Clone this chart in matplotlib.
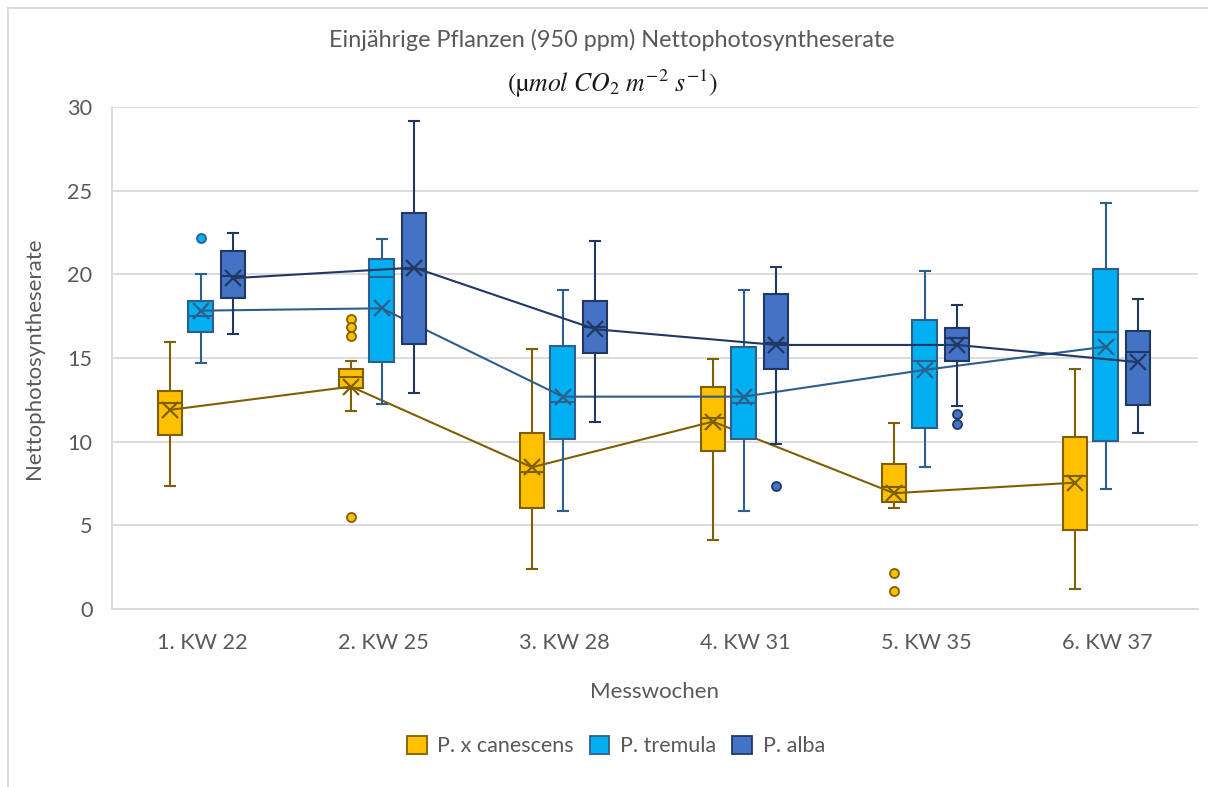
import matplotlib
matplotlib.use("Agg")
import matplotlib.pyplot as plt
from matplotlib.lines import Line2D

plt.rcParams['font.family'] = ['Lato', 'DejaVu Sans']
plt.rcParams['mathtext.fontset'] = 'stix'

# ---- data -------------------------------------------------------------
weeks = ["1. KW 22", "2. KW 25", "3. KW 28", "4. KW 31", "5. KW 35", "6. KW 37"]
series_names = ["P. x canescens", "P. tremula", "P. alba"]

# P. x canescens
can_lo = [7.37, 11.83, 2.37, 4.10, 6.02, 1.18]
can_q1 = [10.40, 13.19, 6.06, 9.42, 6.38, 4.72]
can_med = [12.30, 13.89, 8.21, 11.40, 7.31, 7.95]
can_q3 = [13.03, 14.35, 10.50, 13.27, 8.65, 10.30]
can_hi = [15.98, 14.82, 15.54, 14.96, 11.10, 14.33]
can_mean = [11.90, 13.29, 8.47, 11.20, 6.92, 7.55]
can_out = [[], [17.33, 16.84, 16.30, 5.48], [], [], [2.13, 1.08], []]

# P. tremula
tre_lo = [14.72, 12.25, 5.86, 5.86, 8.47, 7.17]
tre_q1 = [16.56, 14.78, 10.16, 10.16, 10.84, 10.06]
tre_med = [17.50, 19.87, 12.35, 12.31, 14.82, 16.58]
tre_q3 = [18.43, 20.90, 15.70, 15.68, 17.27, 20.32]
tre_hi = [20.00, 22.13, 19.05, 19.07, 20.22, 24.25]
tre_mean = [17.83, 17.97, 12.69, 12.69, 14.29, 15.68]
tre_out = [[22.15], [], [], [], [], []]

# P. alba
alb_lo = [16.44, 12.93, 11.18, 9.86, 12.15, 10.50]
alb_q1 = [18.60, 15.84, 15.30, 14.33, 14.84, 12.19]
alb_med = [19.90, 20.30, 16.84, 15.90, 16.18, 15.38]
alb_q3 = [21.42, 23.69, 18.43, 18.85, 16.82, 16.62]
alb_hi = [22.45, 29.17, 22.00, 20.46, 18.15, 18.53]
alb_mean = [19.77, 20.40, 16.72, 15.78, 15.78, 14.75]
alb_out = [[], [], [], [7.37], [11.66, 11.06], []]

fills = ["#FFC000", "#00B0F0", "#4472C4"]
edges = ["#7F6000", "#2E5E8C", "#203864"]
offsets = [-0.18, -0.01, 0.17]
box_w = 0.135

series = [
    (can_lo, can_q1, can_med, can_q3, can_hi, can_mean, can_out),
    (tre_lo, tre_q1, tre_med, tre_q3, tre_hi, tre_mean, tre_out),
    (alb_lo, alb_q1, alb_med, alb_q3, alb_hi, alb_mean, alb_out),
]

# ---- figure -----------------------------------------------------------
W, H = 1208, 787
fig = plt.figure(figsize=(W / 100, H / 100), dpi=100)
ax = fig.add_axes([112 / W, 1 - 609 / H, (1198 - 112) / W, (609 - 107) / H])

grid_c = "#D9D9D9"
text_c = "#595959"

for i, (lo, q1, med, q3, hi, mean, out) in enumerate(series):
    stats = []
    for k in range(len(weeks)):
        stats.append(dict(whislo=lo[k], q1=q1[k], med=med[k], q3=q3[k],
                          whishi=hi[k], mean=mean[k], fliers=out[k]))
    pos = [k + offsets[i] for k in range(len(weeks))]
    z = 3 + 2 * i
    ax.bxp(stats, positions=pos, widths=box_w, patch_artist=True,
           showmeans=True, manage_ticks=False, zorder=z,
           boxprops=dict(facecolor=fills[i], edgecolor=edges[i], linewidth=1.5),
           medianprops=dict(color=edges[i], linewidth=1.5),
           whiskerprops=dict(color=edges[i], linewidth=1.5),
           capprops=dict(color=edges[i], linewidth=1.5),
           capwidths=0.055,
           meanprops=dict(marker='x', markersize=12, markeredgecolor=edges[i],
                          markeredgewidth=1.6),
           flierprops=dict(marker='o', markersize=6.5, markerfacecolor=fills[i],
                           markeredgecolor=edges[i], markeredgewidth=1.3))
    ax.plot(pos, mean, color=edges[i], linewidth=1.5, zorder=z + 1)

ax.set_xlim(-0.5, 5.5)
ax.set_ylim(0, 30)
ax.set_yticks(range(0, 31, 5))
ax.set_xticks(range(len(weeks)))
ax.set_xticklabels(weeks)
ax.tick_params(axis='both', length=0, labelsize=15.6, labelcolor=text_c)
ax.tick_params(axis='y', pad=14)
ax.tick_params(axis='x', pad=17)
ax.grid(axis='y', color=grid_c, linewidth=1.3, zorder=0)
ax.set_axisbelow(True)
for s in ['top', 'right']:
    ax.spines[s].set_visible(False)
ax.spines['left'].set_color(grid_c)
ax.spines['left'].set_linewidth(1.3)
ax.spines['bottom'].set_color(grid_c)
ax.spines['bottom'].set_linewidth(1.3)

ax.set_xlabel("Messwochen", fontsize=16, color=text_c, labelpad=21)
ax.set_ylabel("Nettophotosyntheserate", fontsize=16, color=text_c, labelpad=17)

fig.text(612 / W, 1 - 40 / H, "Einjährige Pflanzen (950 ppm) Nettophotosyntheserate",
         ha='center', va='center', fontsize=16.8, color=text_c)
fig.text(613 / W, 1 - 84 / H, r"(µ$mol\ CO_2\ m^{-2}\ s^{-1}$)",
         ha='center', va='center', fontsize=18.5, color="#1A1A1A",
         family='STIXGeneral')

handles = [plt.Rectangle((0, 0), 1, 1, facecolor=fills[i], edgecolor=edges[i],
                         linewidth=1.3) for i in range(3)]
fig.legend(handles, series_names, loc='center', bbox_to_anchor=(616 / W, 1 - 746 / H),
           ncol=3, frameon=False, fontsize=15.5, labelcolor=text_c,
           handlelength=0.9, handleheight=0.9, handletextpad=0.5, columnspacing=0.75)

# chart frame
fig.add_artist(Line2D([8 / W, 8 / W], [0, 1 - 8 / H], color=grid_c, linewidth=1.3,
                      transform=fig.transFigure))
fig.add_artist(Line2D([8 / W, 1], [1 - 8 / H, 1 - 8 / H], color=grid_c, linewidth=1.3,
                      transform=fig.transFigure))

fig.savefig("out.png", dpi=100, facecolor='white')
